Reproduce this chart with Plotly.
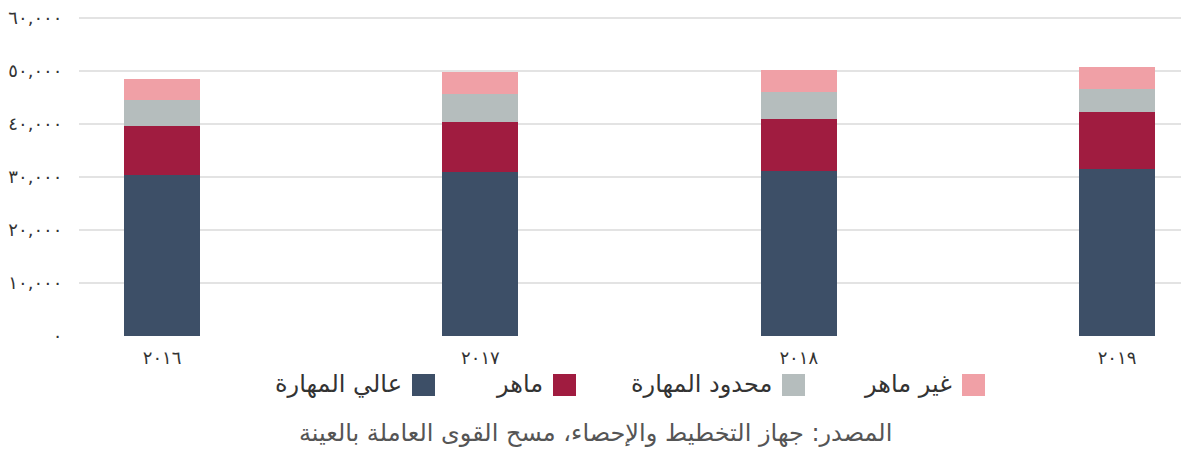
import plotly.graph_objects as go

years = ["٢٠١٦", "٢٠١٧", "٢٠١٨", "٢٠١٩"]
series_names = ["عالي المهارة", "ماهر", "محدود المهارة", "غير ماهر"]
high_skill = [30400, 30900, 31100, 31600]
skilled = [9200, 9400, 9800, 10600]
semi_skilled = [4900, 5300, 5100, 4500]
unskilled = [4100, 4150, 4150, 4000]
colors = ["#3d4f67", "#a01c40", "#b5bdbd", "#f0a0a6"]
tick_vals = [0, 10000, 20000, 30000, 40000, 50000, 60000]
tick_text = ["٠", "١٠,٠٠٠", "٢٠,٠٠٠", "٣٠,٠٠٠", "٤٠,٠٠٠", "٥٠,٠٠٠", "٦٠,٠٠٠"]
source_text = "المصدر: جهاز التخطيط والإحصاء، مسح القوى العاملة بالعينة"

W, H = 1181, 450
L, R, T, B = 79, 0, 16, 114
FONT = "DejaVu Sans"

fig = go.Figure()
for name, vals, col in zip(series_names, [high_skill, skilled, semi_skilled, unskilled], colors):
    fig.add_trace(go.Bar(x=list(range(len(years))), y=vals, name=name,
                         marker=dict(color=col, line=dict(width=0)),
                         width=0.239, showlegend=False))

# helpers taking page-pixel positions
def px2paper_x(px):
    return (px - L) / (W - L - R)

def px2paper_y(py):
    return (H - B - py) / (H - T - B)

# custom RTL legend (swatch right of text)
legend_items = [(985, "غير ماهر", colors[3]),
                (805, "محدود المهارة", colors[2]),
                (576, "ماهر", colors[1]),
                (435, "عالي المهارة", colors[0])]
shapes = []
annotations = []
for right_px, label, col in legend_items:
    shapes.append(dict(type="rect", xref="paper", yref="paper",
                       x0=px2paper_x(right_px - 23), x1=px2paper_x(right_px),
                       y0=px2paper_y(396), y1=px2paper_y(374),
                       fillcolor=col, line=dict(width=0)))
    annotations.append(dict(text=label, xref="paper", yref="paper",
                            x=px2paper_x(right_px - 31), y=px2paper_y(384),
                            xanchor="right", yanchor="middle", showarrow=False,
                            font=dict(family=FONT, size=24, color="#333333")))

annotations.append(dict(text=source_text, xref="paper", yref="paper",
                        x=px2paper_x(595), y=px2paper_y(433),
                        xanchor="center", yanchor="middle", showarrow=False,
                        font=dict(family=FONT, size=24, color="#555555")))

fig.update_layout(
    width=W, height=H,
    margin=dict(l=L, r=R, t=T, b=B, pad=0, autoexpand=False),
    barmode="stack",
    plot_bgcolor="white", paper_bgcolor="white",
    font=dict(family=FONT, size=17, color="#333333"),
    shapes=shapes, annotations=annotations,
    xaxis=dict(range=[-0.261, 3.201], tickmode="array",
               tickvals=list(range(len(years))), ticktext=years,
               showgrid=False, zeroline=False, showline=False, automargin=False,
               ticks="outside", ticklen=5, tickcolor="rgba(0,0,0,0)",
               tickfont=dict(family=FONT, size=18, color="#333333")),
    yaxis=dict(range=[0, 60400], tickmode="array", tickvals=tick_vals, ticktext=tick_text,
               showgrid=True, gridcolor="#e3e3e3", gridwidth=2,
               zeroline=False, showline=False, automargin=False,
               ticks="outside", ticklen=12, tickcolor="rgba(0,0,0,0)",
               ticklabeloverflow="allow",
               tickfont=dict(family=FONT, size=18, color="#333333")),
)

fig.write_html("out.html",
               config={"displayModeBar": False},
               post_script="document.body.style.margin='0';document.body.style.overflow='hidden';")
